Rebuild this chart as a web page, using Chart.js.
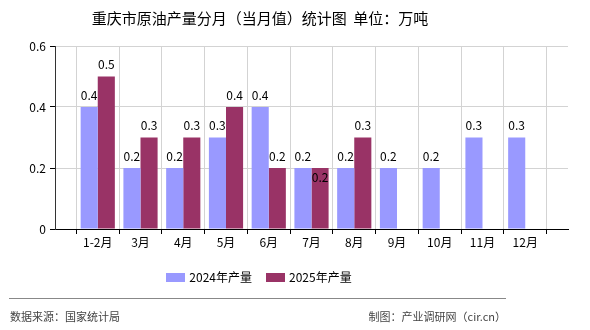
<!DOCTYPE html>
<html>
<head>
<meta charset="utf-8">
<script src="https://cdn.jsdelivr.net/npm/chart.js@4.4.1/dist/chart.umd.min.js"></script>
<style>
html, body { margin: 0; padding: 0; background: #fff; }
#wrap { position: relative; width: 590px; height: 330px; overflow: hidden; font-family: "Noto Sans CJK SC", sans-serif; }
#chart { position: absolute; left: 0; top: 0; }
.title { position: absolute; left: 0; width: 520px; top: 8px; text-align: center; font-size: 15px; line-height: 20px; color: #000; }
#legend { position: absolute; left: 0; width: 518px; top: 269px; display: flex; justify-content: center; font-size: 12px; line-height: 16px; color: #000; }
#legend .item { display: flex; align-items: center; margin: 0 7px; }
#legend .box { width: 19px; height: 9px; margin-right: 4px; }
.rule { position: absolute; left: 9px; width: 497px; top: 298px; height: 1px; background: #888; }
.foot { position: absolute; top: 309px; font-size: 11px; line-height: 15px; color: #444; }
</style>
</head>
<body>
<div id="wrap">
  <canvas id="chart" width="590" height="330"></canvas>
  <div class="title">重庆市原油产量分月（当月值）统计图&nbsp;&nbsp;单位：万吨</div>
  <div id="legend"></div>
  <div class="rule"></div>
  <div class="foot" style="left:10px">数据来源：国家统计局</div>
  <div class="foot" style="right:84px">制图：产业调研网（cir.cn）</div>
</div>
<script>
// months shown on the x axis
const categories = ['1-2月', '3月', '4月', '5月', '6月', '7月', '8月', '9月', '10月', '11月', '12月'];
const values2024 = [0.4, 0.2, 0.2, 0.3, 0.4, 0.2, 0.2, 0.2, 0.2, 0.3, 0.3];
const values2025 = [0.5, 0.3, 0.3, 0.4, 0.2, 0.2, 0.3, null, null, null, null];
const yTicks = [0, 0.2, 0.4, 0.6];

const seriesNames = ['2024年产量', '2025年产量'];
const seriesColors = ['#9999ff', '#993366'];

// empty slot on each side, bars sit on the grid lines
const labels = [''].concat(categories, ['']);
const pad = arr => [null].concat(arr, [null]);

const font = { family: '"Noto Sans CJK SC", sans-serif', size: 12 };

// value labels above bars
const valueLabels = {
    id: 'valueLabels',
    afterDatasetsDraw(chart) {
        const ctx = chart.ctx;
        const m0 = chart.getDatasetMeta(0), m1 = chart.getDatasetMeta(1);
        ctx.save();
        ctx.font = '12px "Noto Sans CJK SC", sans-serif';
        ctx.fillStyle = '#000';
        ctx.textAlign = 'center';
        ctx.textBaseline = 'middle';
        chart.data.datasets.forEach((ds, di) => {
            const meta = di === 0 ? m0 : m1;
            meta.data.forEach((bar, i) => {
                const v = ds.data[i];
                if (v === null || v === undefined) return;
                let y = bar.y - 12;
                // second label would sit on top of the first one: put it inside the bar
                if (di === 1) {
                    const other = m0.data[i];
                    if (chart.data.datasets[0].data[i] !== null && Math.abs(other.y - bar.y) < 12) y = bar.y + 9;
                }
                ctx.fillText(v.toFixed(1), bar.x, y);
            });
        });
        ctx.restore();
    }
};

new Chart(document.getElementById('chart'), {
    type: 'bar',
    data: {
        labels: labels,
        datasets: [
            { label: seriesNames[0], data: pad(values2024), backgroundColor: seriesColors[0] },
            { label: seriesNames[1], data: pad(values2025), backgroundColor: seriesColors[1] }
        ]
    },
    options: {
        responsive: false,
        animation: false,
        devicePixelRatio: 1,
        categoryPercentage: 0.8,
        barPercentage: 1.0,
        layout: { padding: { left: 0, top: 46, right: 22, bottom: 76 } },
        plugins: { legend: { display: false }, tooltip: { enabled: false } },
        scales: {
            x: {
                offset: false,
                grid: { color: '#d3d3d3', tickColor: '#000', tickLength: 5 },
                border: { color: '#000', width: 1 },
                ticks: { font: font, color: '#000', padding: 1, autoSkip: false, maxRotation: 0 },
                afterFit(s) { s.height = 25; }
            },
            y: {
                min: 0,
                max: 0.6,
                afterBuildTicks(s) { s.ticks = yTicks.map(v => ({ value: v })); },
                grid: { color: '#d3d3d3', tickColor: '#000', tickLength: 5 },
                border: { color: '#333', width: 1 },
                ticks: { font: font, color: '#000', padding: 4, callback: v => v === 0 ? '0' : v.toFixed(1) },
                afterFit(s) { s.width = 55; }
            }
        }
    },
    plugins: [valueLabels]
});

// legend
const legend = document.getElementById('legend');
seriesNames.forEach((name, i) => {
    const item = document.createElement('div');
    item.className = 'item';
    item.innerHTML = '<span class="box" style="background:' + seriesColors[i] + '"></span><span>' + name + '</span>';
    legend.appendChild(item);
});
</script>
</body>
</html>
